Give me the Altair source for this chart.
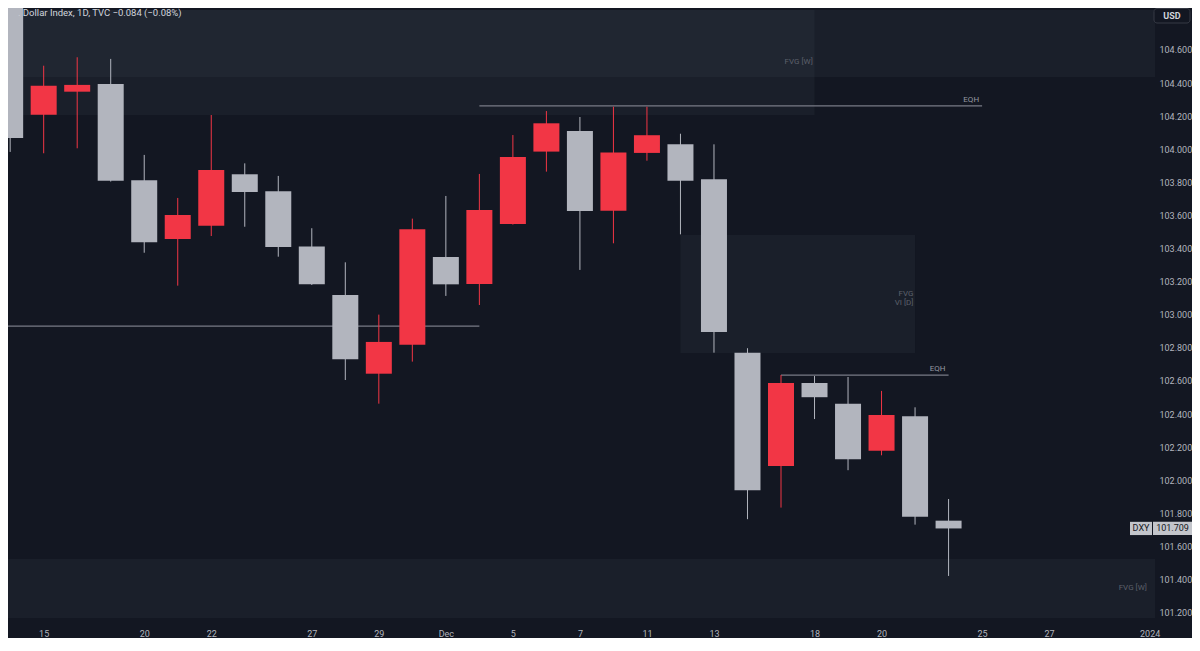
import altair as alt
import pandas as pd

# ---------------- data ----------------
dates = ["Nov 14", "Nov 15", "Nov 16", "Nov 17", "Nov 20", "Nov 21", "Nov 22", "Nov 23",
         "Nov 24", "Nov 27", "Nov 28", "Nov 29", "Nov 30", "Dec 1", "Dec 4", "Dec 5",
         "Dec 6", "Dec 7", "Dec 8", "Dec 11", "Dec 12", "Dec 13", "Dec 14", "Dec 15",
         "Dec 18", "Dec 19", "Dec 20", "Dec 21", "Dec 22"]
open_ = [105.600, 104.209, 104.348, 104.395, 103.813, 103.458, 103.538, 103.849, 103.746,
         103.412, 103.120, 102.644, 102.819, 103.349, 103.186, 103.549, 103.986, 104.111,
         103.629, 103.978, 104.030, 103.819, 102.771, 102.087, 102.588, 102.463, 102.179,
         102.387, 101.756]
high = [105.700, 104.505, 104.556, 104.546, 103.966, 103.706, 104.207, 103.915, 103.839,
        103.523, 103.317, 103.001, 103.581, 103.718, 103.851, 104.086, 104.231, 104.195,
        104.257, 104.257, 104.094, 104.030, 102.798, 102.636, 102.630, 102.624, 102.540,
        102.441, 101.887]
low = [103.984, 103.976, 104.006, 103.805, 103.375, 103.176, 103.476, 103.532, 103.351,
       103.180, 102.606, 102.463, 102.717, 103.114, 103.059, 103.545, 103.865, 103.271,
       103.432, 103.931, 103.486, 102.771, 101.765, 101.835, 102.370, 102.061, 102.151,
       101.732, 101.422]
close = [104.068, 104.384, 104.389, 103.810, 103.438, 103.603, 103.875, 103.742, 103.410,
         103.184, 102.731, 102.836, 103.517, 103.184, 103.633, 103.954, 104.157, 103.627,
         103.980, 104.085, 103.810, 102.896, 101.940, 102.588, 102.502, 102.127, 102.395,
         101.780, 101.709]

x_tick_idx = [1, 4, 6, 9, 11, 13, 15, 17, 19, 21, 24, 26, 29, 31, 34]
x_tick_labels = ["15", "20", "22", "27", "29", "Dec", "5", "7", "11", "13", "18", "20",
                 "25", "27", "2024"]
y_ticks = [101.2, 101.4, 101.6, 101.8, 102.0, 102.2, 102.4, 102.6, 102.8, 103.0,
           103.2, 103.4, 103.6, 103.8, 104.0, 104.2, 104.4, 104.6]

# zones (fair value gaps), in bar-index / price units
zone_x0 = [-1, -1, 20, -1]
zone_x1 = [40, 24, 27, 40]
zone_lo = [104.437, 104.207, 102.769, 101.168]
zone_hi = [104.842, 104.842, 103.482, 101.525]

zone_label_text = ["FVG [W]", "FVG\nVI [D]", "FVG [W]"]
zone_label_x = [23.95, 26.95, 33.92]
zone_label_y = [104.527, 103.126, 101.349]

# horizontal levels
level_x0 = [-1, 14, 23]
level_x1 = [14, 29, 28]
level_y = [102.932, 104.262, 102.636]
eqh_text = ["EQH", "EQH"]
eqh_x = [29, 28]
eqh_y = [104.262, 102.636]

title_text = ". Dollar Index, 1D, TVC  \u22120.084 (\u22120.08%)"
symbol = "DXY"
currency = "USD"

# ---------------- style ----------------
BG = "#131722"
UP = "#f23645"
DOWN = "#b2b5be"
TXT = "#b2b5be"
FONT = "Roboto"

candles = pd.DataFrame({
    "i": list(range(len(dates))), "date": dates, "open": open_, "high": high,
    "low": low, "close": close,
})
candles["dir"] = ["up" if c > o else "down" for o, c in zip(open_, close)]

zones = pd.DataFrame({"x0": zone_x0, "x1": zone_x1, "lo": zone_lo, "hi": zone_hi})
zlabels = pd.DataFrame({"t": zone_label_text, "x": zone_label_x, "y": zone_label_y})
levels = pd.DataFrame({"x0": level_x0, "x1": level_x1, "y": level_y})
eqh = pd.DataFrame({"t": eqh_text, "x": eqh_x, "y": eqh_y})
last = pd.DataFrame({"p": [close[-1]], "sym": [symbol]})

xs = alt.Scale(domain=[-0.154, 34.01], nice=False, zero=False)
ys = alt.Scale(domain=[101.1075, 104.902], nice=False, zero=False)
color = alt.Color("dir:N", scale=alt.Scale(domain=["up", "down"], range=[UP, DOWN]), legend=None)

label_expr = ("[" + ",".join(f"'{l}'" for l in x_tick_labels) + "][indexof(["
              + ",".join(str(v) for v in x_tick_idx) + "], datum.value)]")

x_axis = alt.Axis(values=x_tick_idx, labelExpr=label_expr, grid=False, domain=False,
                  ticks=False, labelColor=TXT, labelFont=FONT, labelFontSize=9,
                  labelPadding=1, title=None, labelOverlap=False, labelFlush=False)
y_axis = alt.Axis(values=y_ticks, format=".3f", orient="right", grid=False, domain=False,
                  ticks=False, labelColor=TXT, labelFont=FONT, labelFontSize=9,
                  labelPadding=4, title=None, labelOverlap=False, labelFlush=False)


def X(field):
    return alt.X(field, scale=xs, axis=x_axis)


def Y(field):
    return alt.Y(field, scale=ys, axis=y_axis)


zone_layer = alt.Chart(zones).mark_rect(fill="#787b86", opacity=0.08, clip=True).encode(
    x=X("x0:Q"), x2="x1:Q", y=Y("lo:Q"), y2="hi:Q")

zone_text = alt.Chart(zlabels).mark_text(align="right", baseline="middle", font=FONT,
                                         fontSize=8, color="#5d606b", lineBreak="\n",
                                         lineHeight=9).encode(
    x=X("x:Q"), y=Y("y:Q"), text="t:N")

level_layer = alt.Chart(levels).mark_rule(color="#787b86", strokeWidth=1.2, clip=True).encode(
    x=X("x0:Q"), x2="x1:Q", y=Y("y:Q"))

eqh_text_layer = alt.Chart(eqh).mark_text(align="right", baseline="bottom", dx=-3, dy=-2,
                                          font=FONT, fontSize=8, color="#9598a1").encode(
    x=X("x:Q"), y=Y("y:Q"), text="t:N")

wicks = alt.Chart(candles).mark_rule(strokeWidth=1, clip=True).encode(
    x=X("i:Q"), y=Y("low:Q"), y2="high:Q", color=color)

bodies = alt.Chart(candles).mark_bar(size=26, clip=True).encode(
    x=X("i:Q"), y=Y("open:Q"), y2="close:Q", color=color)

tag_base = alt.Chart(last).transform_calculate(top="datum.p + 0.040", bot="datum.p - 0.040")
tag_sym_box = tag_base.mark_rect(fill="#c3c5cb").encode(
    x=alt.value(1130), x2=alt.value(1152), y=Y("top:Q"), y2="bot:Q")
tag_val_box = tag_base.mark_rect(fill="#c3c5cb").encode(
    x=alt.value(1153), x2=alt.value(1192), y=Y("top:Q"), y2="bot:Q")
tag_sym = tag_base.mark_text(font=FONT, fontSize=9, color=BG, baseline="middle").encode(
    x=alt.value(1141), y=Y("p:Q"), text="sym:N")
tag_val = tag_base.mark_text(font=FONT, fontSize=9, color=BG, baseline="middle").encode(
    x=alt.value(1172.5), y=Y("p:Q"), text=alt.Text("p:Q", format=".3f"))

title_layer = alt.Chart(pd.DataFrame({"t": [title_text]})).mark_text(
    align="left", baseline="middle", font=FONT, fontSize=9.5, color="#d1d4dc").encode(
    x=alt.value(18), y=alt.value(13), text="t:N")

usd_box = alt.Chart(pd.DataFrame({"t": [currency]})).mark_rect(
    fill=BG, stroke="#363a45", strokeWidth=1, cornerRadius=3).encode(
    x=alt.value(1154), x2=alt.value(1190), y=alt.value(8.5), y2=alt.value(23))
usd_text = alt.Chart(pd.DataFrame({"t": [currency]})).mark_text(
    font=FONT, fontSize=9, fontWeight="bold", color="#d1d4dc", baseline="middle").encode(
    x=alt.value(1172), y=alt.value(16), text="t:N")

chart = alt.layer(
    zone_layer, level_layer, wicks, bodies, zone_text, eqh_text_layer,
    tag_sym_box, tag_val_box, tag_sym, tag_val, title_layer, usd_box, usd_text
).properties(
    width=1155, height=628,
    autosize=alt.AutoSizeParams(type="none"),
    padding={"left": -8, "top": -8, "right": 37, "bottom": 10},
    background=BG,
).configure_view(stroke=None)

chart.save("out.html", embed_options={"renderer": "svg", "actions": False})
